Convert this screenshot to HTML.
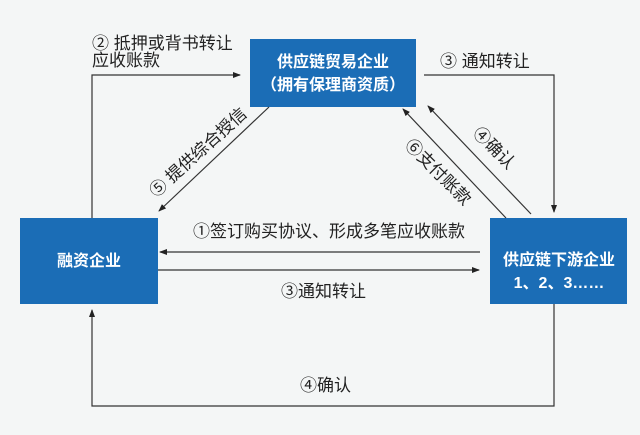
<!DOCTYPE html>
<html><head><meta charset="utf-8"><style>
body{margin:0;width:640px;height:430px;background:#f4f6f6;overflow:hidden}
</style></head><body>
<svg width="640" height="430" xmlns="http://www.w3.org/2000/svg" style="font-family:'Liberation Sans','Noto Sans CJK SC',sans-serif">
<defs><marker id="a" markerWidth="8" markerHeight="8" refX="7" refY="4" orient="auto" markerUnits="userSpaceOnUse"><path d="M0,1 L8,4 L0,7 Z" fill="#222"/></marker></defs>
<rect x="0" y="0" width="640" height="430" fill="#f4f6f6"/>
<rect x="250" y="39" width="166" height="68" fill="#1b6db6"/>
<rect x="20" y="218" width="138" height="86" fill="#1b6db6"/>
<rect x="490" y="218" width="137" height="86" fill="#1b6db6"/>
<g fill="#fff" font-weight="bold" text-anchor="middle" font-size="16">
<text x="333" y="67">供应链贸易企业</text>
<text x="333" y="90">（拥有保理商资质）</text>
<text x="89" y="266">融资企业</text>
<text x="559" y="265">供应链下游企业</text>
<text x="559" y="288">1、2、3……</text>
</g>
<g stroke="#333" stroke-width="1.2" fill="none">
<path d="M92,218 V75 H240" marker-end="url(#a)"/>
<path d="M424,75 H554 V212" marker-end="url(#a)"/>
<path d="M554,304 V406 H92 V310" marker-end="url(#a)"/>
<path d="M480,252 H160" marker-end="url(#a)"/>
<path d="M158,270 H479" marker-end="url(#a)"/>
<path d="M269,107 L159,211" marker-end="url(#a)"/>
<path d="M506,218 L403,109" marker-end="url(#a)"/>
<path d="M531,214 L428,106" marker-end="url(#a)"/>
</g>
<g fill="#222" font-size="17">
<text x="92" y="49">② 抵押或背书转让</text>
<text x="92" y="66">应收账款</text>
<text x="440" y="67">③ 通知转让</text>
<text x="193" y="237">①签订购买协议、形成多笔应收账款</text>
<text x="281" y="297">③通知转让</text>
<text x="300" y="391">④确认</text>
<text transform="translate(156,198) rotate(-42)">⑤ 提供综合授信</text>
<text transform="translate(404,146) rotate(45)">⑥支付账款</text>
<text transform="translate(472,134) rotate(45)">④确认</text>
</g>
</svg>
</body></html>
